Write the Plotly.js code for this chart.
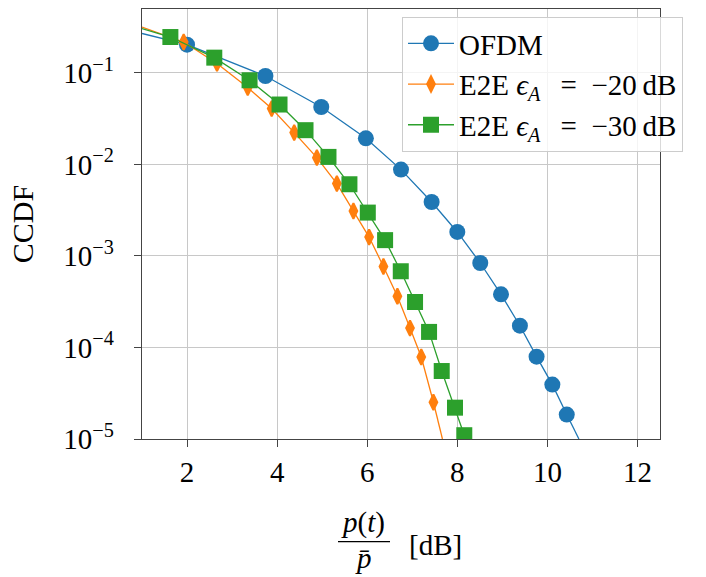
<!DOCTYPE html>
<html><head><meta charset="utf-8">
<script src="https://cdn.plot.ly/plotly-3.0.1.min.js"></script>
<style>html,body{margin:0;padding:0;background:#fff}</style>
</head><body>
<div id="chart" style="width:706px;height:577px"></div>
<script>
// Data
const ofdmX = [2.00, 3.74, 4.98, 5.97, 6.75, 7.43, 8.00, 8.51, 8.97, 9.39, 9.76, 10.11, 10.43];
const ofdmY = [0.204, 0.0927, 0.0425, 0.0193, 0.00879, 0.00389, 0.00183, 0.000838, 0.000381, 0.000173, 7.94e-5, 3.93e-5, 1.85e-5];
const ofdmHeadX = [1.0, 2.00];
const ofdmHeadY = [0.27, 0.204];
const ofdmTailX = [10.43, 10.70];
const ofdmTailY = [1.85e-5, 1e-5];

const e20X = [1.925, 2.665, 3.347, 3.879, 4.379, 4.882, 5.326, 5.694, 6.042, 6.36, 6.67, 6.95, 7.20, 7.47];
const e20Y = [0.218, 0.127, 0.0692, 0.0408, 0.0223, 0.01188, 0.00618, 0.0031, 0.00161, 0.000767, 0.000363, 0.000163, 7.87e-5, 2.52e-5];
const e20HeadX = [1.0, 1.925];
const e20HeadY = [0.318, 0.218];
const e20TailX = [7.47, 7.67];
const e20TailY = [2.52e-5, 1e-5];

const e30X = [1.63, 2.605, 3.388, 4.053, 4.63, 5.14, 5.605, 6.013, 6.397, 6.745, 7.062, 7.373, 7.654, 7.949, 8.155];
const e30Y = [0.247, 0.147, 0.0832, 0.0452, 0.0237, 0.0121, 0.00608, 0.00298, 0.00149, 0.000681, 0.000314, 0.000148, 5.53e-5, 2.2e-5, 1.1e-5];
const e30HeadX = [1.0, 1.63];
const e30HeadY = [0.305, 0.247];

const seriesNames = [
  'OFDM',
  'E2E <i>ϵ</i><sub><i>A</i></sub>\u2009\u2002=\u2002−20\u2009dB',
  'E2E <i>ϵ</i><sub><i>A</i></sub>\u2009\u2002=\u2002−30\u2009dB'
];
const xTickVals = [2, 4, 6, 8, 10, 12];
const yTickVals = [1e-5, 1e-4, 1e-3, 1e-2, 1e-1];
const yTickText = ['10<sup>−5</sup>', '10<sup>−4</sup>', '10<sup>−3</sup>', '10<sup>−2</sup>', '10<sup>−1</sup>'];

const C1 = '#1f77b4', C2 = '#ff7f0e', C3 = '#2ca02c';
const FONT = '"Liberation Serif", "Times New Roman", serif';
const LW = 1.3;

function tail(x, y, c, g) {
  return {x: x, y: y, mode: 'lines', line: {color: c, width: LW}, showlegend: false, hoverinfo: 'skip', legendgroup: g};
}

const traces = [
  tail(ofdmHeadX, ofdmHeadY, C1, 'a'),
  tail(ofdmTailX, ofdmTailY, C1, 'a'),
  {x: ofdmX, y: ofdmY, name: seriesNames[0], mode: 'lines+markers', legendgroup: 'a',
   line: {color: C1, width: LW}, marker: {symbol: 'circle', size: 16, color: C1}},
  tail(e20HeadX, e20HeadY, C2, 'b'),
  tail(e20TailX, e20TailY, C2, 'b'),
  {x: e20X, y: e20Y, name: seriesNames[1], mode: 'lines+markers', legendgroup: 'b',
   line: {color: C2, width: LW}, marker: {symbol: 'diamond-tall', size: 11, color: C2, line: {color: C2, width: 2}}},
  tail(e30HeadX, e30HeadY, C3, 'c'),
  {x: e30X, y: e30Y, name: seriesNames[2], mode: 'lines+markers', legendgroup: 'c',
   line: {color: C3, width: LW}, marker: {symbol: 'square', size: 16, color: C3}}
];

function px2paperX(px) { return (px - 142) / 518; }
function px2paperY(py) { return 1 - (py - 9) / 430; }

const layout = {
  width: 706, height: 577,
  margin: {l: 142, r: 46, t: 9, b: 138},
  paper_bgcolor: '#fff', plot_bgcolor: '#fff',
  font: {family: FONT, size: 29, color: '#000'},
  showlegend: true,
  legend: {x: px2paperX(402), y: px2paperY(17), xanchor: 'left', yanchor: 'top',
    bgcolor: 'rgba(255,255,255,0.8)', bordercolor: '#cccccc', borderwidth: 1,
    itemwidth: 46,
    font: {family: FONT, size: 29, color: '#000'}, tracegroupgap: 0},
  xaxis: {
    range: [1, 12.5], tickvals: xTickVals, ticktext: xTickVals.map(String),
    showgrid: true, gridcolor: '#c8c8c8', gridwidth: 1, zeroline: false,
    showline: true, linecolor: '#444', linewidth: 1.3, mirror: true,
    ticks: 'outside', ticklen: 7, tickcolor: '#444', tickwidth: 1,
    tickfont: {family: FONT, size: 29, color: '#000'}
  },
  yaxis: {
    type: 'log', range: [-5, Math.log10(0.5)], tickvals: yTickVals, ticktext: yTickText,
    showgrid: true, gridcolor: '#c8c8c8', gridwidth: 1, zeroline: false,
    showline: true, linecolor: '#444', linewidth: 1.3, mirror: true,
    ticks: 'outside', ticklen: 7, tickcolor: '#444', tickwidth: 1,
    ticklabelstandoff: 14,
    tickfont: {family: FONT, size: 29, color: '#000'},
    title: {text: 'CCDF', font: {family: FONT, size: 30, color: '#000'}, standoff: 20}
  },
  annotations: [
    {xref: 'paper', yref: 'paper', x: px2paperX(363), y: px2paperY(522), xanchor: 'center', yanchor: 'middle',
     text: '<i>p</i>(<i>t</i>)', showarrow: false, font: {family: FONT, size: 29, color: '#000'}},
    {xref: 'paper', yref: 'paper', x: px2paperX(363.5), y: px2paperY(558), xanchor: 'center', yanchor: 'middle',
     text: '<i>p̄</i>', showarrow: false, font: {family: FONT, size: 29, color: '#000'}},
    {xref: 'paper', yref: 'paper', x: px2paperX(435), y: px2paperY(545), xanchor: 'center', yanchor: 'middle',
     text: '[dB]', showarrow: false, font: {family: FONT, size: 29, color: '#000'}}
  ],
  shapes: [
    {type: 'line', xref: 'paper', yref: 'paper', x0: px2paperX(338), x1: px2paperX(390),
     y0: px2paperY(541.7), y1: px2paperY(541.7), line: {color: '#000', width: 1.2}}
  ]
};

Plotly.newPlot('chart', traces, layout, {displayModeBar: false, staticPlot: true});
</script>
</body></html>
